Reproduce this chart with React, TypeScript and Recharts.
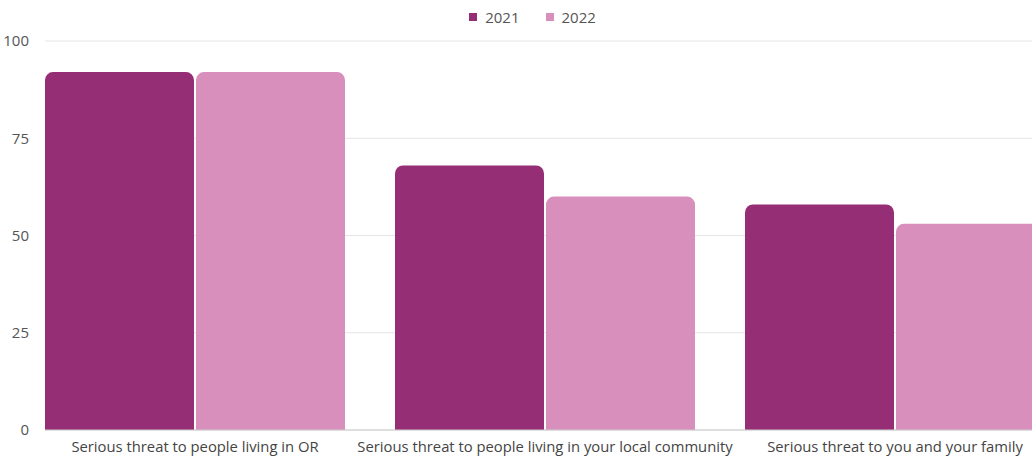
import React from 'react';
import { BarChart, Bar, XAxis, YAxis, CartesianGrid, Legend } from 'recharts';

const categories = [
  'Serious threat to people living in OR',
  'Serious threat to people living in your local community',
  'Serious threat to you and your family',
];
const values2021 = [92, 68, 58];
const values2022 = [92, 60, 53];
const yTicks = [0, 25, 50, 75, 100];
const seriesNames = ['2021', '2022'];
const colors = ['#962e75', '#d88fbb'];

const data = categories.map((c, i) => ({ name: c, y2021: values2021[i], y2022: values2022[i] }));

const LegendContent = () => (
  <div style={{ display: 'flex', justifyContent: 'center', alignItems: 'center', fontFamily: '"Open Sans", sans-serif', fontSize: 15, color: '#555', paddingRight: 5 }}>
    {seriesNames.map((n, i) => (
      <div key={n} style={{ display: 'flex', alignItems: 'center', marginRight: i === 0 ? 26 : 0 }}>
        <span style={{ display: 'inline-block', width: 8, height: 8, background: colors[i], marginRight: 8 }} />
        <span>{n}</span>
      </div>
    ))}
  </div>
);

export default function App() {
  return (
    <div style={{ position: 'absolute', left: 0, top: 0, width: 1032, height: 457, overflow: 'hidden', background: '#fff' }}>
      <BarChart
        width={1070}
        height={457}
        data={data}
        margin={{ top: 11, right: 0, bottom: 0, left: 0 }}
        barCategoryGap={25}
        barGap={2}
      >
        <Legend verticalAlign="top" height={30} content={<LegendContent />} wrapperStyle={{ top: 7 }} />
        <CartesianGrid vertical={false} stroke="#e5e5e5" />
        <XAxis
          dataKey="name"
          height={27}
          padding={{ left: -25, right: 0 }}
          axisLine={{ stroke: '#cccccc' }}
          tickLine={false}
          tickMargin={5}
          tick={{ fontFamily: '"Open Sans", sans-serif', fontSize: 14.8, fill: '#444' }}
        />
        <YAxis
          width={45}
          domain={[0, 100]}
          ticks={yTicks}
          axisLine={false}
          tickLine={false}
          tickMargin={10}
          tick={{ fontFamily: '"Open Sans", sans-serif', fontSize: 15, fill: '#555' }}
        />
        <Bar dataKey="y2021" name={seriesNames[0]} fill={colors[0]} radius={[8, 8, 0, 0]} isAnimationActive={false} />
        <Bar dataKey="y2022" name={seriesNames[1]} fill={colors[1]} radius={[8, 8, 0, 0]} isAnimationActive={false} />
      </BarChart>
    </div>
  );
}
